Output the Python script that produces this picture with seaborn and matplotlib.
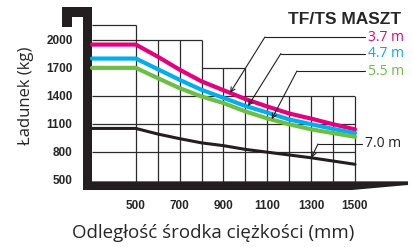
import seaborn as sns
import matplotlib.pyplot as plt
import pandas as pd

# load chart values
dist = [300, 500, 600, 700, 800, 900, 1000, 1100, 1200, 1300, 1400, 1500]
m37 = [1950, 1950, 1820, 1680, 1555, 1460, 1365, 1285, 1210, 1155, 1095, 1040]
m47 = [1800, 1800, 1686, 1571, 1464, 1378, 1291, 1220, 1146, 1095, 1045, 1000]
m55 = [1700, 1700, 1590, 1482, 1393, 1322, 1232, 1157, 1095, 1040, 1000, 960]
m70 = [1050, 1050, 990, 940, 895, 865, 825, 795, 765, 735, 700, 665]
series_names = ["3.7 m", "4.7 m", "5.5 m", "7.0 m"]
series_colors = ["#E6007E", "#00AEEF", "#6CBE45", "#231F20"]
xticks = [500, 700, 900, 1100, 1300, 1500]
yticks = [500, 800, 1100, 1400, 1700, 2000]

sns.set_style("white")
plt.rcParams['font.family'] = ['Liberation Sans Narrow', 'Liberation Sans', 'DejaVu Sans']

fig = plt.figure(figsize=(4.14, 2.47), dpi=100)
ax = fig.add_axes([92 / 414, 65 / 247, 263 / 414, 157 / 247])
ax.set_xlim(300, 1500)
ax.set_ylim(475, 2160)

# stepped grid
gc = "#2b2b2b"
ax.hlines([2155], 300, 500, color=gc, lw=0.9, clip_on=False)
ax.hlines([2000], 300, 800, color=gc, lw=0.9)
ax.hlines([1700], 800, 1000, color=gc, lw=0.9)
ax.hlines([1400, 1100, 800], 300, 1500, color=gc, lw=0.9)
ax.vlines([500], 475, 2155, color=gc, lw=0.9, clip_on=False)
ax.vlines([600, 700, 800], 475, 2000, color=gc, lw=0.9)
ax.vlines([900, 1000], 475, 1700, color=gc, lw=0.9)
ax.vlines([1100, 1200, 1300, 1400, 1500], 475, 1400, color=gc, lw=0.9, clip_on=False)

# curves
df = pd.DataFrame({"dist": dist, "3.7 m": m37, "4.7 m": m47, "5.5 m": m55, "7.0 m": m70})
long = df.melt(id_vars="dist", var_name="maszt", value_name="kg")
for name, col in zip(series_names, series_colors):
    lw = 2.2 if name == "7.0 m" else 3.0
    sns.lineplot(data=long[long.maszt == name], x="dist", y="kg", color=col,
                 lw=lw, ax=ax, legend=False, clip_on=False)

# mast shape (left) and fork (bottom)
blk = "#231F20"
ax.fill([259, 300, 300, 259], [389, 389, 2246, 2246], color=blk, clip_on=False, lw=0)
ax.fill([163, 300, 300, 209, 209, 163], [2353, 2353, 2246, 2246, 2139, 2139],
        color=blk, clip_on=False, lw=0)
ax.fill([259, 1742, 1742, 1486, 259], [482, 482, 443, 389, 389],
        color=blk, clip_on=False, lw=0)

# leaders and labels
leaders = [
    (930, 1432, 1089, 2031, 1546, 2031),
    (1012, 1290, 1162, 1854, 1546, 1854),
    (1120, 1150, 1235, 1666, 1546, 1666),
    (1302, 738, 1331, 883, 1532, 883),
]
for (tx, ty, cx, cy, ex, ey), name, col in zip(leaders, series_names, series_colors):
    ax.plot([cx, ex], [cy, ey], color=blk, lw=0.8, clip_on=False)
    ax.annotate("", xy=(tx, ty), xytext=(cx, cy),
                arrowprops=dict(arrowstyle="->", color=blk, lw=0.8,
                                shrinkA=0, shrinkB=0, mutation_scale=8),
                annotation_clip=False)
    ax.text(ex + 12, ey, name, color=col, fontsize=10, va="center", ha="left",
            family=['Open Sans', 'DejaVu Sans'], clip_on=False)

fig.text(401 / 414, 1 - 20 / 247, "TF/TS MASZT", fontsize=12.5, fontweight="bold",
         ha="right", va="center")

ax.set_xticks(xticks)
ax.set_yticks(yticks)
ax.set_xticklabels([str(v) for v in xticks], fontweight="bold", fontsize=8.5)
ax.set_yticklabels([str(v) for v in yticks], fontweight="bold", fontsize=8.5)
ax.tick_params(axis="x", length=0, pad=13)
ax.tick_params(axis="y", length=0, pad=14)
for s in ax.spines.values():
    s.set_visible(False)

ax.set_xlabel("")
ax.set_ylabel("")
fig.text(213 / 414, 1 - 233 / 247, "Odległość środka ciężkości (mm)", fontsize=13.5,
         ha="center", va="center", family=['Open Sans', 'DejaVu Sans'])
fig.text(26 / 414, 1 - 96 / 247, "Ładunek (kg)", fontsize=12, rotation=90,
         ha="center", va="center", family=['Open Sans', 'DejaVu Sans'])

fig.savefig("out.png", dpi=100)
